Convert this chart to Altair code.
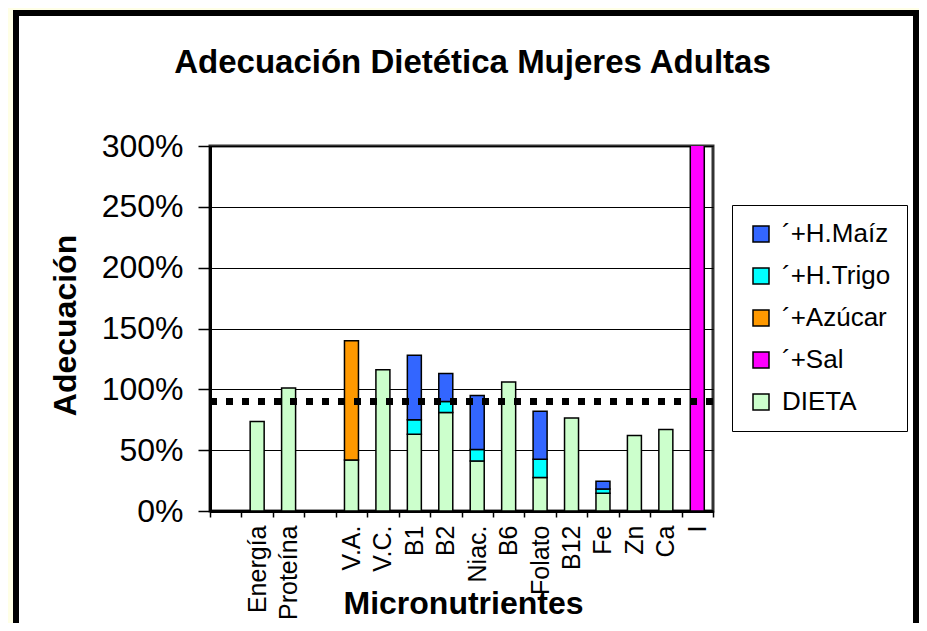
import altair as alt
import pandas as pd

categories = [" ", "Energía", "Proteína", "  ", "V.A.", "V.C.", "B1", "B2",
              "Niac.", "B6", "Folato", "B12", "Fe", "Zn", "Ca", "I"]
dieta  = [0, 0.735, 1.01, 0, 0.42, 1.16, 0.63, 0.81, 0.41, 1.06, 0.275, 0.765, 0.145, 0.62, 0.67, 0]
trigo  = [0, 0, 0, 0, 0, 0, 0.12, 0.09, 0.095, 0, 0.15, 0, 0.035, 0, 0, 0]
maiz   = [0, 0, 0, 0, 0, 0, 0.53, 0.23, 0.445, 0, 0.395, 0, 0.064, 0, 0, 0]
azucar = [0, 0, 0, 0, 0.98, 0, 0, 0, 0, 0, 0, 0, 0, 0, 0, 0]
sal    = [0, 0, 0, 0, 0, 0, 0, 0, 0, 0, 0, 0, 0, 0, 0, 3.2]
meta = [0.9]
yticks = [0, 0.5, 1.0, 1.5, 2.0, 2.5, 3.0]

series_names = ["´+H.Maíz", "´+H.Trigo", "´+Azúcar", "´+Sal", "DIETA"]
series_colors = ["#3366FF", "#00FFFF", "#FF9900", "#FF00FF", "#CCFFCC"]
stack_rank = {"DIETA": 0, "´+Sal": 1, "´+Azúcar": 2, "´+H.Trigo": 3, "´+H.Maíz": 4}
series_vals = {"DIETA": dieta, "´+H.Trigo": trigo, "´+H.Maíz": maiz,
               "´+Azúcar": azucar, "´+Sal": sal}

rows = []
for name, vals in series_vals.items():
    for c, v in zip(categories, vals):
        if v > 0:
            rows.append({"cat": c, "serie": name, "valor": v, "rank": stack_rank[name]})
df = pd.DataFrame(rows)

FONT = "Liberation Sans"
W, H = 503, 365

xscale = alt.Scale(domain=categories, paddingInner=0, paddingOuter=0)
yscale = alt.Scale(domain=[0, 3], nice=False)

# decorative outer frame (yellow margin + black border)
one = alt.Data(values=[{"k": 1}])
yellow = alt.Chart(one).mark_rect(filled=False, stroke="#FFFFE6", strokeWidth=12).encode(
    x=alt.value(-203), x2=alt.value(730), y=alt.value(-142), y2=alt.value(560))
frame = alt.Chart(one).mark_rect(filled=False, stroke="black", strokeWidth=6).encode(
    x=alt.value(-194), x2=alt.value(706), y=alt.value(-133), y2=alt.value(560))

bars = alt.Chart(df).mark_bar(size=14, stroke="black", strokeWidth=1.5, clip=True).encode(
    x=alt.X("cat:N", scale=xscale, sort=categories,
            axis=alt.Axis(title="Micronutrientes", labelAngle=270, labelAlign="right",
                          labelBaseline="middle", labelFontSize=25, labelPadding=8,
                          labelOverlap=False, tickBand="extent", tickSize=6,
                          tickWidth=1.5, tickColor="black", domainColor="black",
                          domainWidth=3, labelColor="black", labelFont=FONT,
                          titleFont=FONT, titleFontSize=32, titleFontWeight="bold",
                          titleColor="black", titleBaseline="alphabetic",
                          titleX=253, titleY=102, titleAlign="center")),
    y=alt.Y("valor:Q", stack="zero", scale=yscale,
            axis=alt.Axis(title="Adecuación", values=yticks, format=".0%",
                          labelFontSize=32, labelFont=FONT, labelColor="black",
                          labelPadding=15, tickSize=12, tickWidth=1.5, tickColor="black",
                          domainColor="black", domainWidth=3, grid=True,
                          gridColor="black", gridWidth=1, titleFont=FONT,
                          titleFontSize=32, titleFontWeight="bold", titleColor="black",
                          titleAngle=270, titleX=-135, titleY=179,
                          titleBaseline="alphabetic", titleAlign="center")),
    fill=alt.Fill("serie:N", scale=alt.Scale(domain=series_names, range=series_colors),
                  legend=alt.Legend(title=None, orient="none", legendX=522, legendY=59,
                                    strokeColor="black", fillColor="white", padding=16,
                                    labelFontSize=26, labelFont=FONT, labelColor="black",
                                    symbolType="square", symbolSize=256,
                                    symbolStrokeColor="black", symbolStrokeWidth=1.5,
                                    rowPadding=16, labelOffset=8)),
    order=alt.Order("rank:Q", sort="ascending"),
)

meta_rule = alt.Chart(alt.Data(values=[{"m": v} for v in meta])).mark_rule(
    color="black", strokeWidth=7, strokeDash=[7, 9], strokeCap="butt").encode(
    y=alt.Y("m:Q", scale=yscale))

chart = alt.layer(yellow, frame, bars, meta_rule).properties(
    width=W, height=H,
    title=alt.TitleParams("Adecuación Dietética Mujeres Adultas", font=FONT, fontSize=33,
                          fontWeight="bold", color="black", anchor="middle", frame="group",
                          baseline="alphabetic", offset=0, dy=108, dx=11),
    padding={"left": 202, "top": 138, "right": 206, "bottom": 112},
    autosize=alt.AutoSizeParams(type="none"),
    background="white",
).configure_view(stroke="#333333", strokeWidth=3)

chart.save("out.html", embed_options={"renderer": "svg", "actions": False})
